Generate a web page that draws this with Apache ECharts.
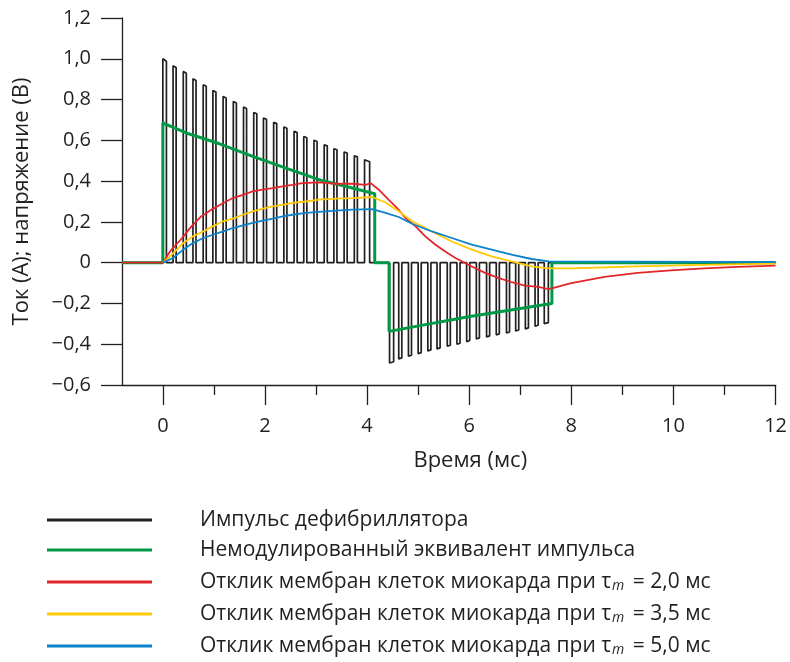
<!DOCTYPE html>
<html>
<head>
<meta charset="utf-8">
<script src="https://cdn.jsdelivr.net/npm/echarts@6/dist/echarts.min.js"></script>
<style>
  html, body { margin: 0; padding: 0; background: #fff; }
  #chart { width: 790px; height: 662px; }
</style>
</head>
<body>
<div id="chart"></div>
<script>
const FONT = '"Open Sans"';
const INK = '#231f20';

// x ticks (ms)
const xMajorTicks = [0, 2, 4, 6, 8, 10, 12];
const xMinorTicks = [1, 3, 5, 7, 9, 11];

// defibrillator pulse: positive phase teeth (ms) and tooth tops (A)
const posOn = [0, 0.2, 0.4, 0.59, 0.79, 0.98, 1.18, 1.38, 1.58, 1.78, 1.97, 2.17, 2.37, 2.57, 2.76, 2.96, 3.16, 3.35, 3.55, 3.75, 3.95];
const posOff = [0.07, 0.26, 0.46, 0.65, 0.85, 1.04, 1.24, 1.44, 1.64, 1.84, 2.03, 2.23, 2.43, 2.63, 2.82, 3.02, 3.22, 3.41, 3.61, 3.81, 4.05];
const posTopOn = [1.0, 0.966, 0.938, 0.902, 0.873, 0.845, 0.815, 0.79, 0.763, 0.737, 0.709, 0.688, 0.665, 0.644, 0.619, 0.6, 0.578, 0.559, 0.543, 0.524, 0.505];
const posTopOff = [0.988, 0.957, 0.929, 0.894, 0.865, 0.837, 0.808, 0.783, 0.756, 0.73, 0.703, 0.682, 0.659, 0.638, 0.613, 0.594, 0.573, 0.554, 0.538, 0.519, 0.495];

// negative phase teeth
const negOn = [4.44, 4.62, 4.81, 5.0, 5.19, 5.37, 5.57, 5.76, 5.95, 6.14, 6.34, 6.53, 6.73, 6.91, 7.1, 7.29, 7.47];
const negOff = [4.52, 4.68, 4.87, 5.06, 5.25, 5.43, 5.63, 5.82, 6.01, 6.2, 6.4, 6.59, 6.79, 6.97, 7.16, 7.35, 7.55];
const negBottomOn = [-0.492, -0.472, -0.459, -0.446, -0.433, -0.423, -0.41, -0.4, -0.387, -0.374, -0.364, -0.354, -0.345, -0.335, -0.325, -0.312, -0.299];
const negBottomOff = [-0.486, -0.467, -0.454, -0.441, -0.428, -0.418, -0.405, -0.395, -0.382, -0.369, -0.359, -0.349, -0.34, -0.33, -0.32, -0.307, -0.294];

// unmodulated equivalent pulse
const greenT = [-0.8, 0, 0, 0.46, 1.11, 1.76, 2.41, 3.06, 3.71, 4.15, 4.15, 4.43, 4.43, 5.98, 7.62, 7.62, 12];
const greenV = [0, 0, 0.685, 0.636, 0.583, 0.521, 0.464, 0.407, 0.366, 0.338, 0, 0, -0.337, -0.265, -0.2, 0, 0];

// membrane response, tau = 2.0 ms
const redT = [-0.8, 0, 0.14, 0.36, 0.56, 0.75, 0.95, 1.17, 1.37, 1.57, 1.76, 1.95, 2.15, 2.34, 2.54, 2.73, 3.06, 3.39, 3.71, 3.97, 4.07, 4.23, 4.42, 4.59, 4.75, 4.95, 5.14, 5.34, 5.53, 5.73, 5.92, 6.11, 6.31, 6.57, 6.83, 7.09, 7.35, 7.56, 8.0, 8.65, 9.3, 9.95, 10.6, 11.25, 12];
const redV = [0, 0, 0.055, 0.116, 0.178, 0.227, 0.26, 0.29, 0.317, 0.333, 0.35, 0.358, 0.366, 0.374, 0.382, 0.39, 0.394, 0.387, 0.387, 0.382, 0.39, 0.358, 0.309, 0.268, 0.219, 0.178, 0.129, 0.088, 0.055, 0.023, -0.002, -0.026, -0.05, -0.075, -0.096, -0.113, -0.119, -0.13, -0.1, -0.07, -0.05, -0.038, -0.028, -0.021, -0.015];

// membrane response, tau = 3.5 ms
const yellowT = [0, 0.14, 0.4, 0.59, 0.79, 0.98, 1.18, 1.37, 1.57, 1.76, 1.96, 2.15, 2.35, 2.54, 2.8, 3.06, 3.39, 3.71, 4.1, 4.36, 4.62, 4.88, 5.27, 5.66, 6.05, 6.44, 6.83, 7.22, 7.56, 8.0, 9.3, 10.6, 12];
const yellowV = [0, 0.031, 0.096, 0.129, 0.153, 0.178, 0.203, 0.216, 0.235, 0.252, 0.265, 0.276, 0.284, 0.293, 0.3, 0.309, 0.314, 0.317, 0.322, 0.295, 0.252, 0.203, 0.153, 0.104, 0.064, 0.031, 0.006, -0.018, -0.028, -0.028, -0.018, -0.011, -0.005];

// membrane response, tau = 5.0 ms
const blueT = [0, 0.2, 0.4, 0.59, 0.79, 0.98, 1.18, 1.37, 1.57, 1.76, 1.96, 2.15, 2.35, 2.54, 2.8, 3.06, 3.39, 3.71, 4.1, 4.36, 4.62, 4.88, 5.27, 5.66, 6.05, 6.44, 6.83, 7.22, 7.56, 12];
const blueV = [0, 0.023, 0.064, 0.096, 0.121, 0.137, 0.153, 0.17, 0.183, 0.195, 0.206, 0.216, 0.227, 0.235, 0.244, 0.249, 0.255, 0.26, 0.263, 0.244, 0.224, 0.191, 0.153, 0.121, 0.088, 0.064, 0.039, 0.018, 0.006, 0.003];

const names = [
  'Импульс дефибриллятора',
  'Немодулированный эквивалент импульса',
  'Отклик мембран клеток миокарда при τm = 2,0 мс',
  'Отклик мембран клеток миокарда при τm = 3,5 мс',
  'Отклик мембран клеток миокарда при τm = 5,0 мс'
];

function pairs(ts, vs) {
  return ts.map((t, i) => [t, vs[i]]);
}

// square-wave path through the listed tooth edges
function pulsePath() {
  const pts = [[-0.8, 0]];
  posOn.forEach((t, i) => {
    pts.push([t, 0], [t, posTopOn[i]], [posOff[i], posTopOff[i]], [posOff[i], 0]);
  });
  negOn.forEach((t, i) => {
    pts.push([t, 0], [t, negBottomOn[i]], [negOff[i], negBottomOff[i]], [negOff[i], 0]);
  });
  pts.push([12, 0]);
  return pts;
}

function yLabel(v) {
  if (Math.abs(v) < 1e-9) return '0';
  const s = Math.abs(v).toFixed(1).replace('.', ',');
  return (v < 0 ? '\u2212' : '') + s;
}

const chart = echarts.init(document.getElementById('chart'));

const lineSeries = (name, data, color, width) => ({
  name: name,
  type: 'line',
  data: data,
  showSymbol: false,
  symbol: 'none',
  animation: false,
  lineStyle: { color: color, width: width },
  itemStyle: { color: color }
});

const axisStyle = { color: INK, width: 1.3 };

chart.setOption({
  animation: false,
  grid: { left: 122, right: 13, top: 18, bottom: 277, containLabel: false },
  xAxis: [
    {
      type: 'value', min: -0.8, max: 12,
      name: 'Время (мс)', nameLocation: 'middle', nameGap: 65,
      nameTextStyle: { fontFamily: FONT, fontSize: 22, color: INK, padding: [0, 0, 0, 43] },
      axisLine: { show: true, onZero: false, lineStyle: axisStyle },
      axisTick: { show: true, inside: false, customValues: xMajorTicks, length: 20, lineStyle: axisStyle },
      axisLabel: { customValues: xMajorTicks, margin: 31, fontFamily: FONT, fontSize: 20, color: INK },
      splitLine: { show: false }
    },
    {
      type: 'value', min: -0.8, max: 12, position: 'bottom',
      axisLine: { show: false, onZero: false },
      axisTick: { show: true, inside: false, customValues: xMinorTicks, length: 10, lineStyle: axisStyle },
      axisLabel: { show: false },
      splitLine: { show: false }
    }
  ],
  yAxis: {
    type: 'value', min: -0.6, max: 1.2, interval: 0.2,
    name: 'Ток (А); напряжение (В)', nameLocation: 'middle', nameGap: 89, nameRotate: 90,
    nameTextStyle: { fontFamily: FONT, fontSize: 22, color: INK },
    axisLine: { show: true, onZero: false, lineStyle: axisStyle },
    axisTick: { show: true, inside: false, length: 21, lineStyle: axisStyle },
    axisLabel: { margin: 31, fontFamily: FONT, fontSize: 20, color: INK, formatter: yLabel },
    splitLine: { show: false }
  },
  legend: {
    data: names,
    orient: 'vertical',
    left: 47, top: 509, height: 160,
    padding: 0,
    icon: 'rect',
    itemWidth: 105, itemHeight: 3, itemGap: 8,
    textStyle: {
      fontFamily: FONT, fontSize: 21, color: INK, lineHeight: 22,
      padding: [0, 0, 0, 43],
      rich: {
        sub: { fontFamily: FONT, fontSize: 14, fontStyle: 'italic', color: INK, verticalAlign: 'bottom', lineHeight: 12, padding: [10, 3, 0, 1] }
      }
    },
    formatter: name => name.replace('τm', 'τ{sub|m}')
  },
  series: [
    lineSeries(names[0], pulsePath(), INK, 1.7),
    lineSeries(names[1], pairs(greenT, greenV), '#009a46', 3),
    lineSeries(names[2], pairs(redT, redV), '#e3262b', 1.8),
    lineSeries(names[3], pairs(yellowT, yellowV), '#ffc906', 1.8),
    lineSeries(names[4], pairs(blueT, blueV), '#0b82cc', 1.8)
  ]
});
</script>
</body>
</html>
